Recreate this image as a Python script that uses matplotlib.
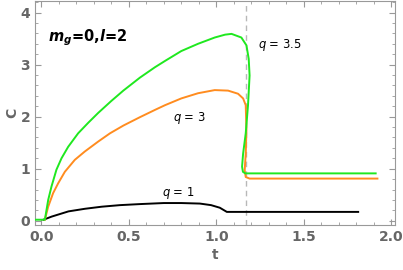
import matplotlib
matplotlib.use("Agg")
import matplotlib.pyplot as plt
from matplotlib.ticker import MultipleLocator, FormatStrFormatter

# q = 3.5 (green)
t_q35 = [-0.035, 0.021, 0.04, 0.059, 0.087, 0.116, 0.154, 0.211, 0.268, 0.325,
         0.40, 0.469, 0.564, 0.65, 0.707, 0.80, 0.896, 0.991, 1.05, 1.087, 1.143,
         1.172, 1.185, 1.19, 1.181, 1.168, 1.153, 1.147, 1.152, 1.165, 1.91]
c_q35 = [0.02, 0.02, 0.40, 0.66, 0.98, 1.20, 1.42, 1.68, 1.88, 2.07,
         2.30, 2.50, 2.75, 2.95, 3.07, 3.26, 3.40, 3.52, 3.575, 3.59, 3.52,
         3.37, 3.11, 2.79, 2.22, 1.68, 1.29, 1.04, 0.94, 0.91, 0.91]

# q = 3 (orange)
t_q3 = [0.021, 0.04, 0.068, 0.097, 0.135, 0.192, 0.249, 0.325, 0.393, 0.47,
        0.564, 0.65, 0.707, 0.80, 0.896, 0.991, 1.067, 1.124, 1.153, 1.168,
        1.172, 1.168, 1.162, 1.168, 1.19, 1.92]
c_q3 = [0.02, 0.27, 0.53, 0.72, 0.94, 1.17, 1.33, 1.52, 1.68, 1.83,
        1.99, 2.13, 2.22, 2.35, 2.45, 2.51, 2.50, 2.44, 2.35, 2.22,
        1.74, 1.29, 0.97, 0.84, 0.81, 0.81]

# q = 1 (black)
t_q1 = [0.013, 0.06, 0.156, 0.25, 0.346, 0.45, 0.564, 0.70, 0.80, 0.906,
        0.97, 1.02, 1.045, 1.06, 1.81]
c_q1 = [0.02, 0.08, 0.18, 0.23, 0.27, 0.30, 0.32, 0.34, 0.34, 0.33,
        0.30, 0.25, 0.20, 0.17, 0.17]

t_crit = 1.168

gray = '#666666'

fig = plt.figure(figsize=(4.03, 2.70), dpi=100)
ax = fig.add_axes([0.087, 0.167, 0.893, 0.829])

ax.axvline(t_crit, color='#b8b8b8', lw=1.0, ls=(0, (4, 3)), zorder=1)
ax.plot(t_q1, c_q1, color='black', lw=1.4, zorder=3)
ax.plot(t_q3, c_q3, color='#ff8c1f', lw=1.4, zorder=3)
ax.plot(t_q35, c_q35, color='#1fe81f', lw=1.4, zorder=4)

ax.text(1.24, 3.38, r'$q$ = 3.5', fontsize=8.3, va='center', ha='left')
ax.text(0.75, 1.97, r'$q$ = 3', fontsize=8.3, va='center', ha='left')
ax.text(0.69, 0.53, r'$q$ = 1', fontsize=8.3, va='center', ha='left')
ax.text(0.04, 3.52, r'$\mathbfit{m}_{\mathbfit{g}}$=0,$\mathbfit{l}$=2',
        fontsize=10.5, fontweight='bold', va='center', ha='left')

ax.set_xlim(-0.035, 2.02)
ax.set_ylim(-0.08, 4.22)
ax.xaxis.set_major_locator(MultipleLocator(0.5))
ax.xaxis.set_minor_locator(MultipleLocator(0.1))
ax.yaxis.set_major_locator(MultipleLocator(1))
ax.yaxis.set_minor_locator(MultipleLocator(0.2))
ax.xaxis.set_major_formatter(FormatStrFormatter('%.1f'))

ax.tick_params(which='both', direction='in', top=True, right=True,
               color='#999999', labelcolor=gray, labelsize=10)
ax.tick_params(which='major', length=4, width=0.8)
ax.tick_params(which='minor', length=2.2, width=0.6)
for lab in ax.get_xticklabels() + ax.get_yticklabels():
    lab.set_fontweight('bold')
for sp in ax.spines.values():
    sp.set_color('#999999')
    sp.set_linewidth(0.8)

ax.set_xlabel('t', fontsize=10, fontweight='bold', color=gray, labelpad=3)
ax.set_ylabel('C', fontsize=10, fontweight='bold', color=gray, labelpad=1)

fig.savefig('out.png', dpi=100)
